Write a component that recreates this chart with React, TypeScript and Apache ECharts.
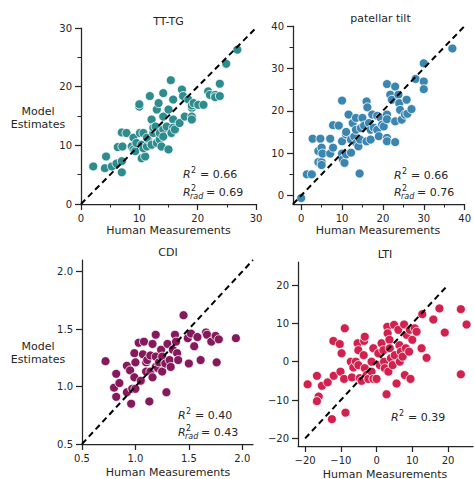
import React, { useEffect, useRef } from "react";
import * as echarts from "echarts";

// ---- Data ----
const ttHuman = [2.1,4.3,4.1,5.3,6.1,6.3,7.0,7.1,7.0,7.0,7.8,8.7,9.0,9.0,9.3,9.5,10.1,10.0,10.0,10.4,11.0,10.7,10.4,10.7,11.3,11.5,11.3,11.8,12.1,12.1,12.4,12.4,12.8,13.0,13.3,13.0,13.5,13.5,13.8,14.1,14.1,14.1,14.1,14.7,15.0,15.0,15.4,15.8,15.8,15.8,15.5,16.1,16.9,17.3,17.5,17.8,18.4,19.0,19.0,19.0,19.0,19.3,20.1,21.0,21.8,22.1,23.0,23.0,23.8,23.8,24.9,26.8];
const ttModel = [6.4,8.1,6.1,6.4,6.9,9.7,5.4,9.8,7.3,12.2,12.1,9.8,9.3,11.3,9.0,10.4,12.1,16.6,17.0,7.8,8.1,12.1,10.1,9.5,9.8,11.0,11.3,18.4,14.4,10.1,12.1,13.0,13.2,16.1,17.2,10.4,11.0,12.1,9.8,18.9,14.9,12.7,11.5,13.2,16.1,9.3,21.1,17.8,14.4,13.0,12.1,12.7,13.8,19.5,18.4,14.9,17.8,16.4,16.8,14.9,14.4,17.2,16.9,16.9,19.2,18.6,18.6,18.2,18.4,20.5,23.9,26.3];

const ptHuman = [0,1.4,2.6,2.8,4.7,4.2,4.2,5.0,5.0,5.2,5.0,7.1,7.1,7.8,7.8,9.2,10.0,10.0,10.0,10.2,10.6,11.0,11.0,11.0,11.6,12.2,12.2,12.6,13.0,13.4,13.4,13.5,14.0,14.3,14.4,14.6,15.0,15.4,16.0,16.0,16.2,16.6,17.0,17.0,17.4,17.8,18.6,18.6,19.0,19.4,19.8,20.2,21.0,21.0,21.0,21.0,21.0,21.8,22.2,23.0,23.0,23.0,23.8,24.0,24.2,24.6,25.4,25.8,26.0,27.0,28.0,30.0,30.0,30.0,37.0];
const ptModel = [-0.6,5.0,5.0,13.4,13.4,10.5,7.9,7.9,11.3,9.9,7.2,13.4,9.9,16.6,11.3,16.5,22.4,12.8,9.9,8.5,7.7,9.7,14.4,15.0,19.1,10.1,13.2,17.1,13.9,18.3,15.5,12.4,11.6,5.2,13.2,15.9,18.3,16.5,22.2,12.8,20.8,17.1,15.5,13.2,19.1,16.0,18.8,15.5,14.0,18.4,16.7,16.3,19.1,18.0,13.6,12.8,26.3,23.8,22.6,25.7,17.5,12.6,23.8,21.8,20.2,17.9,19.1,22.6,19.3,20.4,27.5,31.2,26.9,25.1,34.7];

const cdiHuman = [0.72,0.82,0.80,0.82,0.85,0.92,0.92,0.95,0.96,0.97,0.99,1.0,0.99,1.0,1.03,1.05,1.08,1.07,1.10,1.10,1.11,1.13,1.14,1.14,1.16,1.16,1.19,1.19,1.19,1.21,1.22,1.24,1.25,1.25,1.28,1.29,1.30,1.32,1.33,1.35,1.37,1.38,1.39,1.40,1.45,1.49,1.50,1.52,1.55,1.58,1.61,1.66,1.67,1.71,1.75,1.76,1.78,1.94];
const cdiModel = [1.22,1.11,0.99,0.91,1.03,1.18,0.95,1.14,0.85,0.98,1.29,1.21,1.08,0.98,1.38,1.05,1.39,1.28,1.21,1.13,1.23,0.87,1.27,1.13,1.37,1.08,1.45,1.26,1.17,1.16,1.21,1.32,1.26,1.13,1.20,0.95,1.37,1.23,1.17,1.32,1.45,1.39,1.29,1.23,1.62,1.42,1.20,1.46,1.35,1.43,1.23,1.47,1.45,1.39,1.44,1.21,1.41,1.42];

const ltiHuman = [-19.3,-16.7,-16.2,-16.7,-15.3,-13.7,-12.5,-12.1,-12.0,-10.3,-10.1,-9.8,-9.1,-8.9,-8.7,-7.2,-6.9,-6.5,-5.8,-5.3,-5.1,-5.1,-4.7,-4.2,-3.5,-3.3,-3.6,-3.3,-2.8,-2.3,-1.4,-1.4,-0.9,-0.9,0,0.5,0.9,1.4,1.9,2.1,2.3,2.8,3.0,3.1,3.3,3.6,3.7,4.0,4.5,4.9,5.1,5.6,6.1,6.4,6.5,6.8,7.3,7.7,7.9,8.2,8.4,9.1,9.3,9.5,10.0,10.7,11.2,12.6,12.8,14.0,15.9,17.6,19.1,23.6,23.6,25.2];
const ltiModel = [-5.9,-3.7,-9.1,-10.3,-6.3,-5.4,-15.0,5.4,-3.7,4.6,-2.6,2.2,-4.5,8.7,-13.3,0,-4.1,-1.5,0,4.8,3.0,-0.9,-4.3,-5.0,5.4,6.5,1.7,-1.7,-3.5,-4.5,0,-2.6,3.5,-4.5,-4.5,2.2,-0.9,4.8,3.0,0,-1.7,-8.5,9.1,7.4,-2.6,5.7,3.5,0.9,-0.9,9.6,1.7,-5.7,8.3,4.3,0,2.6,1.3,9.7,-3.5,3.5,7.0,2.6,8.3,-4.5,5.7,8.7,7.8,3.5,12.4,1.0,11.0,13.9,7.6,13.7,-3.3,9.7];

const titles = ["TT-TG", "patellar tilt", "CDI", "LTI"];
const colors = ["#2f8c8e", "#3a86b0", "#85195b", "#d1214f"];
const r2Values = ["0.66", "0.66", "0.40", "0.39"];
const r2RadValues = ["0.69", "0.76", "0.43", ""];
const axisRanges = [[0, 30], [-2, 40], [0.5, 2.1], [-22, 27]];
const yRanges = [[0, 30], [-2, 40], [0.5, 2.1], [-22, 26]];
const diagonals = [[0, 30], [-2, 40], [0.5, 2.1], [-20, 20]];
const majorTicks = [
  [0, 10, 20, 30],
  [0, 10, 20, 30, 40],
  [0.5, 1.0, 1.5, 2.0],
  [-20, -10, 0, 10, 20],
];
const minorTicks = [
  [5, 15, 25],
  [5, 15, 25, 35],
];
const yMajorTicks = [
  [0, 10, 20, 30],
  [0, 10, 20, 30, 40],
  [0.5, 1.0, 1.5, 2.0],
  [-20, -10, 0, 10, 20],
];
const yMinorTicks = [
  [5, 15, 25],
  [5, 15, 25, 35],
];

const grids = [
  { left: 81, top: 28, width: 175, height: 176 },
  { left: 293, top: 26, width: 175, height: 178 },
  { left: 82, top: 260, width: 171, height: 184 },
  { left: 298, top: 262, width: 175, height: 184 },
];

const FONT = "DejaVu Sans";
const TXT = "#262626";

function fmt(i: number) {
  return (v: number) => {
    if (i === 2) return Number(v).toFixed(1);
    if (v < 0) return "\u2212" + Math.abs(v);
    return String(v);
  };
}

function zip(a: number[], b: number[]) {
  return a.map((v, i) => [v, b[i]]);
}

function r2Graphic(x: number, y: number, val: string, rad: boolean) {
  const els: any[] = [];
  const base = { fontFamily: FONT, fill: TXT };
  els.push({ type: "text", x, y, style: { ...base, text: "R", fontSize: 11, fontStyle: "italic", verticalAlign: "middle" } });
  els.push({ type: "text", x: x + 8, y: y - 4, style: { ...base, text: "2", fontSize: 8, verticalAlign: "middle" } });
  if (rad) {
    els.push({ type: "text", x: x + 7, y: y + 4, style: { ...base, text: "rad", fontSize: 8, fontStyle: "italic", verticalAlign: "middle" } });
  }
  els.push({ type: "text", x: x + (rad ? 23 : 17), y, style: { ...base, text: "= " + val, fontSize: 11, verticalAlign: "middle" } });
  return els;
}

export default function App() {
  const ref = useRef<HTMLDivElement>(null);
  useEffect(() => {
    if (!ref.current) return;
    const chart = echarts.init(ref.current, null, { renderer: "svg" });
    const xs = [zip(ttHuman, ttModel), zip(ptHuman, ptModel), zip(cdiHuman, cdiModel), zip(ltiHuman, ltiModel)];

    const xAxis: any[] = [];
    const yAxis: any[] = [];
    for (let i = 0; i < 4; i++) {
      xAxis.push({
        type: "value", gridIndex: i, position: "bottom", offset: 0, min: axisRanges[i][0], max: axisRanges[i][1],
        splitLine: { show: false },
        axisLine: { onZero: false, lineStyle: { color: TXT, width: 1.25 } },
        axisTick: { customValues: majorTicks[i], length: 6, lineStyle: { color: TXT, width: 1.25 } },
        axisLabel: { customValues: majorTicks[i], formatter: fmt(i), fontSize: 10, color: TXT, fontFamily: FONT, margin: 9 },
      });
      yAxis.push({
        type: "value", gridIndex: i, position: "left", offset: 0, min: yRanges[i][0], max: yRanges[i][1],
        splitLine: { show: false },
        axisLine: { onZero: false, lineStyle: { color: TXT, width: 1.25 } },
        axisTick: { customValues: yMajorTicks[i], length: 6, lineStyle: { color: TXT, width: 1.25 } },
        axisLabel: { customValues: yMajorTicks[i], formatter: fmt(i), fontSize: 10, color: TXT, fontFamily: FONT, margin: 9 },
      });
    }
    for (let i = 0; i < 2; i++) {
      xAxis.push({
        type: "value", gridIndex: i, position: "bottom", offset: 0, min: axisRanges[i][0], max: axisRanges[i][1],
        splitLine: { show: false }, axisLine: { show: false, onZero: false }, axisLabel: { show: false },
        axisTick: { customValues: minorTicks[i], length: 3.5, lineStyle: { color: TXT, width: 1 } },
      });
      yAxis.push({
        type: "value", gridIndex: i, position: "left", offset: 0, min: yRanges[i][0], max: yRanges[i][1],
        splitLine: { show: false }, axisLine: { show: false, onZero: false }, axisLabel: { show: false },
        axisTick: { customValues: yMinorTicks[i], length: 3.5, lineStyle: { color: TXT, width: 1 } },
      });
    }

    const series: any[] = [];
    for (let i = 0; i < 4; i++) {
      series.push({
        type: "scatter", xAxisIndex: i, yAxisIndex: i, data: xs[i], symbolSize: 9,
        itemStyle: { color: colors[i], borderColor: "#ffffff", borderWidth: 0.8, opacity: 1 },
        z: 2,
      });
      series.push({
        type: "line", xAxisIndex: i, yAxisIndex: i,
        data: [[diagonals[i][0], diagonals[i][0]], [diagonals[i][1], diagonals[i][1]]],
        symbol: "none", lineStyle: { color: "#000", width: 2, type: [6, 4] }, z: 3,
      });
    }

    const graphic: any[] = [];
    const titlePos = [[168.5, 21], [380.5, 18], [168, 252], [385, 254]];
    titles.forEach((t, i) => {
      graphic.push({ type: "text", x: titlePos[i][0], y: titlePos[i][1], style: { text: t, fontSize: 11, fontFamily: FONT, fill: TXT, align: "center", verticalAlign: "middle" } });
    });
    const xlabPos = [[168.5, 230], [378, 230], [168, 472], [385, 474]];
    xlabPos.forEach((p) => {
      graphic.push({ type: "text", x: p[0], y: p[1], style: { text: "Human Measurements", fontSize: 11, fontFamily: FONT, fill: TXT, align: "center", verticalAlign: "middle" } });
    });
    [[38, 118], [38, 353]].forEach((p) => {
      graphic.push({ type: "text", x: p[0], y: p[1], style: { text: "Model\nEstimates", fontSize: 11, lineHeight: 13, fontFamily: FONT, fill: TXT, align: "center", verticalAlign: "middle" } });
    });
    const r2Pos = [[183, 174, 192], [394, 175, 192], [178, 415, 432], [391, 417, 0]];
    r2Pos.forEach((p, i) => {
      graphic.push(...r2Graphic(p[0], p[1], r2Values[i], false));
      if (r2RadValues[i]) graphic.push(...r2Graphic(p[0], p[2], r2RadValues[i], true));
    });

    chart.setOption({
      animation: false,
      backgroundColor: "#ffffff",
      textStyle: { fontFamily: FONT },
      grid: grids,
      xAxis,
      yAxis,
      series,
      graphic,
    });
    return () => chart.dispose();
  }, []);
  return <div ref={ref} style={{ position: "fixed", left: 0, top: 0, width: 474, height: 479 }} />;
}
